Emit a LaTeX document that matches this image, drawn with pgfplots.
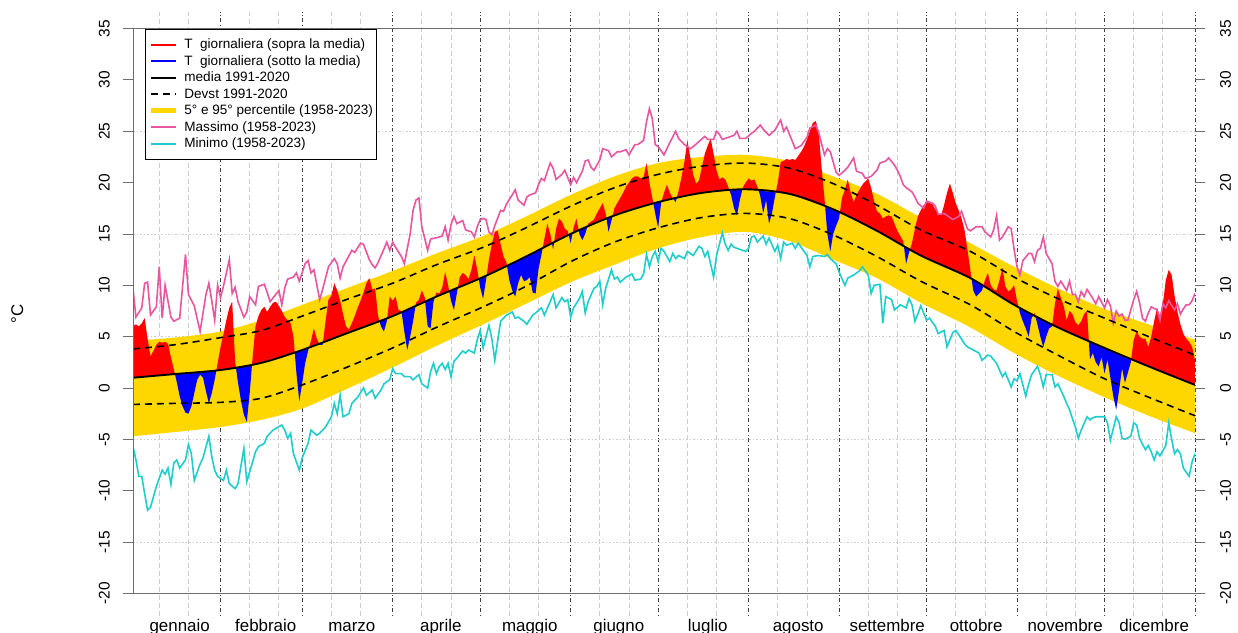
\documentclass[border=0pt]{standalone}
\usepackage{fontspec}
\setmainfont{Liberation Sans}
\usepackage{pgfplots}
\usepackage{pgfplotstable}
\usepgfplotslibrary{fillbetween}
\pgfplotsset{compat=1.18}

\definecolor{oro}{RGB}{255,215,0}
\definecolor{rosa}{RGB}{232,86,160}
\definecolor{turchese}{RGB}{32,205,205}
\definecolor{asse}{RGB}{110,110,110}
\definecolor{griglia}{RGB}{205,205,205}

% climatologia: percentili 5-95 (1958-2023), media e devst 1991-2020
\pgfplotstableread{
day lo hi sdlo sdhi mean
1 -4.7 4.6 -1.6 3.8 1.0
15 -4.3 4.9 -1.5 4.2 1.35
31 -3.8 5.5 -1.4 4.9 1.75
45 -3.1 6.6 -1.0 5.6 2.45
59 -2.0 8.1 0.3 7.0 3.7
75 0.0 9.8 2.1 8.7 5.4
90 2.0 11.4 3.9 10.2 7.0
105 4.1 13.1 5.9 12.0 8.9
121 6.2 14.8 7.9 13.7 10.8
135 8.1 16.6 9.8 15.5 12.7
151 10.3 18.8 12.3 17.7 15.0
166 12.0 20.6 14.2 19.5 16.8
181 13.6 21.9 15.6 20.8 18.1
196 14.7 22.5 16.6 21.6 19.0
211 15.2 22.7 17.0 21.9 19.35
226 14.3 22.1 16.5 21.4 18.9
241 12.5 20.6 14.9 19.9 17.4
256 10.7 18.9 12.8 17.8 15.3
271 8.3 16.6 10.4 15.4 12.9
288 5.9 14.1 8.1 13.3 10.7
303 3.4 11.8 5.5 10.8 8.1
318 1.2 9.7 3.2 8.7 5.9
334 -0.9 7.7 0.9 6.8 3.9
350 -2.8 6.1 -1.0 4.9 2.0
365 -4.4 4.7 -2.7 3.2 0.3
}\clima

\begin{document}
\begin{tikzpicture}
\begin{axis}[
  at={(0,0)}, anchor=south west,
  scale only axis, width=1062bp, height=603.9bp,
  xmin=1, xmax=365, ymin=-22.2, ymax=36.6,
  clip mode=individual,
  axis line style={draw=none},
  tick align=outside,
  major tick length=10bp,
  ytick={-20,-15,...,35}, ytick pos=left,
  ytick style={asse, line width=0.8bp},
  yticklabel style={rotate=90, anchor=south, inner ysep=13bp, font=\fontsize{15.5}{16}\selectfont},
  /pgf/number format/assume math mode=true,
  xtick={17,46.5,76,106.5,137,167.5,198,229,259.5,290,320.5,351},
  xticklabels={gennaio,febbraio,marzo,aprile,maggio,giugno,luglio,agosto,settembre,ottobre,novembre,dicembre},
  xtick style={draw=none},
  xticklabel style={font=\fontsize{17}{18}\selectfont, anchor=base, inner sep=0bp, yshift=-5bp},
  minor xtick={10,20,41,51,69,79,100,110,130,140,161,171,191,201,222,232,253,263,283,293,314,324,344,354},
  xminorgrids,
  minor grid style={griglia, line width=0.8bp, dash pattern=on 5bp off 3bp},
  extra x ticks={31,59,90,120,151,181,212,243,273,304,334,365},
  extra x tick labels={},
  extra x tick style={major tick length=0pt, grid=major,
    major grid style={black!75, line width=0.7bp, dash pattern=on 1bp off 2.5bp on 4bp off 2.5bp}},
  extra y ticks={-15,-5,5,15,25},
  extra y tick labels={},
  extra y tick style={grid=major, major grid style={griglia, line width=0.7bp, dash pattern=on 1.5bp off 2bp}},
  ylabel={°C},
  ylabel style={at={(axis description cs:-0.109,0.5)}, anchor=center, font=\fontsize{17}{18}\selectfont},
  legend style={at={(0.0113,0.9718)}, anchor=north west, draw=black, line width=0.8bp, fill=white,
    font=\fontsize{13.6}{15}\selectfont, inner xsep=3bp, inner ysep=8bp, row sep=2bp, column sep=6bp,
    nodes={inner sep=0bp, text height=11bp, text depth=3.5bp}, cells={anchor=west}},
]

% fascia 5-95 percentile
\addplot[draw=none, smooth, name path=hi, forget plot] table[x=day, y=hi]{\clima};
\addplot[draw=none, smooth, name path=lo, forget plot] table[x=day, y=lo]{\clima};
\addplot[fill=oro, draw=none, forget plot] fill between[of=hi and lo];

% temperatura giornaliera rispetto alla media
\addplot[draw=none, name path=med, forget plot] table[x=day, y=mean]{\clima};
\addplot[draw=none, name path=tg, forget plot] coordinates {
(1,6.0) (2,6.2) (3,6.0) (4,6.3) (5,6.8) (6,4.8) (7,3.1) (8,3.6) (9,4.2) (10,4.5)
(11,4.4) (12,4.5) (13,4.3) (14,3.0) (15,1.8) (16,0.6) (17,-0.8) (18,-1.8) (19,-2.4) (20,-2.5)
(21,-1.8) (22,-0.5) (23,0.8) (24,1.3) (25,1.0) (26,-0.3) (27,-1.5) (28,-0.5) (29,0.8) (30,2.4)
(31,4.0) (32,5.2) (33,6.6) (34,7.8) (35,8.4) (36,2.6) (37,0.5) (38,-1.2) (39,-2.6) (40,-3.3)
(41,-0.5) (42,3.0) (43,6.0) (44,7.0) (45,7.6) (46,7.9) (47,7.4) (48,7.9) (49,8.3) (50,8.4)
(51,8.0) (52,7.5) (53,6.9) (54,6.6) (55,6.3) (56,5.0) (57,1.5) (58,-1.3) (59,0.5) (60,2.4)
(61,3.6) (62,4.6) (63,5.8) (64,4.8) (65,4.2) (66,4.2) (67,6.5) (68,8.6) (69,9.0) (70,10.2)
(71,9.5) (72,8.5) (73,7.2) (74,6.0) (75,5.7) (76,6.3) (77,7.0) (78,7.8) (79,8.5) (80,9.3)
(81,10.2) (82,10.7) (83,9.6) (84,9.7) (85,7.0) (86,6.0) (87,5.5) (88,6.5) (89,8.9) (90,8.5)
(91,8.9) (92,7.6) (93,7.5) (94,5.5) (95,3.7) (96,5.0) (97,6.5) (98,8.3) (99,8.6) (100,9.5)
(101,8.8) (102,6.0) (103,5.8) (104,8.4) (105,9.3) (106,9.2) (107,9.8) (108,11.3) (109,10.0) (110,8.5)
(111,7.6) (112,9.2) (113,10.8) (114,11.2) (115,11.0) (116,10.6) (117,11.5) (118,12.9) (119,11.5) (120,9.8)
(121,8.7) (122,10.5) (123,12.5) (124,14.0) (125,15.2) (126,15.3) (127,14.0) (128,12.8) (129,12.2) (130,10.5)
(131,9.5) (132,8.9) (133,10.2) (134,11.0) (135,10.4) (136,10.5) (137,10.8) (138,9.3) (139,9.2) (140,11.6)
(141,13.0) (142,14.5) (143,16.0) (144,15.0) (145,13.5) (146,15.5) (147,16.5) (148,16.2) (149,15.5) (150,15.3)
(151,14.1) (152,15.6) (153,16.5) (154,15.0) (155,14.4) (156,15.0) (157,16.0) (158,16.2) (159,16.4) (160,17.0)
(161,17.5) (162,18.0) (163,17.0) (164,15.2) (165,16.3) (166,17.5) (167,18.0) (168,18.5) (169,19.0) (170,19.6)
(171,20.0) (172,20.4) (173,20.6) (174,20.6) (175,20.4) (176,20.5) (177,21.9) (178,20.0) (179,18.5) (180,17.0)
(181,15.6) (182,18.0) (183,19.0) (184,19.8) (185,19.0) (186,18.5) (187,18.1) (188,19.2) (189,20.5) (190,22.0)
(191,24.1) (192,22.5) (193,20.8) (194,19.9) (195,20.2) (196,21.5) (197,22.8) (198,23.6) (199,24.3) (200,22.8)
(201,21.2) (202,20.3) (203,20.5) (204,20.3) (205,19.6) (206,18.8) (207,17.5) (208,16.8) (209,18.3) (210,19.5)
(211,20.0) (212,20.4) (213,20.2) (214,20.3) (215,19.6) (216,18.7) (217,17.0) (218,18.3) (219,16.0) (220,17.0)
(221,18.6) (222,20.0) (223,22.0) (224,22.1) (225,22.3) (226,22.2) (227,22.3) (228,22.2) (229,22.6) (230,23.0)
(231,23.5) (232,24.2) (233,25.0) (234,25.8) (235,26.0) (236,25.0) (237,21.5) (238,18.5) (239,15.0) (240,13.3)
(241,15.0) (242,15.8) (243,16.5) (244,18.5) (245,19.3) (246,20.3) (247,19.0) (248,18.1) (249,18.8) (250,19.3)
(251,19.8) (252,20.1) (253,20.4) (254,19.5) (255,18.2) (256,17.2) (257,17.0) (258,16.5) (259,16.7) (260,16.8)
(261,16.7) (262,16.0) (263,15.3) (264,14.8) (265,14.3) (266,12.1) (267,13.2) (268,14.1) (269,15.5) (270,16.7)
(271,17.3) (272,17.8) (273,18.1) (274,18.0) (275,17.9) (276,17.4) (277,17.0) (278,16.8) (279,17.8) (280,19.0)
(281,19.9) (282,19.0) (283,18.0) (284,17.3) (285,16.5) (286,15.4) (287,13.5) (288,11.5) (289,9.5) (290,8.9)
(291,9.2) (292,9.5) (293,10.5) (294,11.2) (295,10.0) (296,9.6) (297,9.5) (298,10.5) (299,11.7) (300,9.9)
(301,9.4) (302,9.6) (303,10.0) (304,8.5) (305,7.3) (306,6.5) (307,5.8) (308,5.0) (309,6.8) (310,7.3)
(311,6.2) (312,5.0) (313,4.0) (314,5.0) (315,5.8) (316,6.0) (317,8.2) (318,9.7) (319,8.8) (320,8.0)
(321,6.6) (322,7.5) (323,7.2) (324,6.4) (325,6.1) (326,6.5) (327,7.2) (328,7.5) (329,2.8) (330,3.4)
(331,2.5) (332,2.1) (333,3.0) (334,1.4) (335,2.8) (336,1.0) (337,-0.8) (338,-2.1) (339,-0.2) (340,1.9)
(341,0.5) (342,1.5) (343,2.5) (344,4.7) (345,5.5) (346,5.0) (347,4.8) (348,4.8) (349,4.0) (350,5.0)
(351,6.5) (352,7.8) (353,7.0) (354,8.2) (355,10.5) (356,11.5) (357,11.0) (358,9.0) (359,7.4) (360,6.2)
(361,5.3) (362,4.8) (363,4.5) (364,4.0) (365,2.7)
};
\addplot[fill=red, draw=none, forget plot] fill between[of=tg and med, split,
  every even segment/.style={fill=red}, every odd segment/.style={fill=blue}];

% massimo assoluto 1958-2023
\addplot[rosa, line width=1.6bp, forget plot] coordinates {
(1,9.7) (2,6.9) (4,7.8) (5,10.2) (6,10.3) (7,7.1) (9,7.9) (10,11.8) (11,6.8) (12,10.0)
(14,6.9) (15,6.5) (17,6.8) (19,13.0) (20,9.1) (22,8.0) (24,5.5) (25,7.3) (26,9.1) (27,10.2)
(28,8.5) (29,6.6) (30,10.0) (31,8.8) (32,9.9) (34,12.5) (35,9.2) (36,9.8) (37,8.4) (39,6.9)
(40,7.4) (41,8.9) (43,8.1) (44,9.9) (46,10.1) (47,9.3) (48,8.4) (51,9.5) (52,8.1) (53,9.7)
(54,10.6) (56,10.8) (57,11.2) (58,10.4) (60,12.1) (61,12.4) (62,11.2) (63,11.5) (65,8.6) (66,9.6)
(68,11.8) (70,12.6) (71,12.1) (72,10.7) (73,11.8) (76,13.4) (77,13.2) (79,14.1) (80,14.0) (82,12.5)
(83,12.0) (84,11.7) (85,12.2) (88,14.2) (89,13.4) (90,14.2) (91,13.7) (93,12.8) (94,12.1) (96,15.0)
(97,17.3) (98,18.3) (99,18.5) (100,15.7) (102,13.4) (103,14.5) (106,14.7) (107,14.8) (108,15.7) (109,14.4)
(110,15.9) (111,16.7) (112,16.0) (114,16.3) (115,15.4) (117,15.2) (118,14.7) (119,15.7) (120,16.4) (121,16.5)
(122,16.4) (123,15.2) (124,14.9) (125,15.8) (127,17.3) (128,17.2) (129,17.9) (131,18.8) (132,19.3) (133,18.3)
(135,17.8) (136,18.6) (137,18.8) (139,19.0) (140,19.8) (141,20.4) (142,20.2) (144,21.9) (145,21.4) (146,20.3)
(148,20.8) (149,21.2) (151,19.8) (152,20.5) (153,20.0) (155,21.1) (156,22.1) (157,22.2) (158,21.5) (159,21.2)
(161,22.2) (162,23.3) (164,23.1) (165,22.5) (167,23.0) (168,23.0) (170,23.2) (171,22.7) (173,23.7) (174,23.7)
(176,24.1) (177,25.9) (178,27.2) (179,26.2) (180,23.7) (181,23.5) (183,22.7) (184,23.3) (185,23.9) (187,25.0)
(188,24.3) (190,23.7) (192,23.3) (193,23.5) (195,24.0) (197,24.5) (198,24.2) (200,24.2) (201,25.0) (202,24.7)
(203,24.2) (205,24.4) (206,24.5) (207,24.6) (208,25.0) (209,24.3) (211,24.3) (213,24.8) (214,25.0) (216,25.6)
(217,25.2) (219,24.6) (221,25.1) (223,26.1) (224,25.0) (225,25.4) (227,24.0) (228,23.3) (230,23.6) (232,24.4)
(233,25.3) (235,25.6) (236,24.9) (238,22.7) (239,23.3) (240,23.0) (241,22.0) (242,21.0) (243,20.7) (245,21.2)
(246,21.5) (248,22.4) (249,21.1) (251,20.9) (252,20.4) (254,20.6) (256,21.2) (257,21.9) (259,22.1) (260,22.4)
(262,21.7) (263,21.2) (264,20.6) (265,19.8) (266,19.5) (268,19.1) (269,18.6) (270,18.0) (272,17.5) (273,18.2)
(275,18.0) (276,17.7) (277,16.9) (279,17.0) (280,16.8) (282,16.4) (284,16.7) (285,17.2) (287,15.5) (288,15.3)
(290,15.7) (292,15.7) (293,15.2) (295,14.7) (296,15.4) (297,16.8) (298,14.4) (299,14.7) (301,15.7) (302,15.5)
(303,13.5) (304,11.8) (305,11.0) (306,12.4) (308,13.1) (309,13.1) (310,12.3) (311,13.4) (312,13.6) (313,14.7)
(314,13.1) (316,12.1) (317,10.4) (318,9.9) (319,10.4) (321,9.5) (322,10.4) (323,9.1) (324,9.1) (325,8.4)
(326,9.4) (327,8.9) (328,9.6) (330,8.7) (331,8.2) (332,8.9) (334,7.8) (335,8.6) (336,8.0) (337,6.3)
(338,7.5) (339,7.0) (340,7.2) (341,6.6) (342,6.6) (344,8.6) (345,9.4) (346,8.3) (347,6.8) (348,6.5)
(349,7.3) (350,7.9) (352,7.6) (353,6.6) (354,8.2) (355,7.8) (356,8.5) (358,7.6) (359,8.2) (360,7.2)
(361,7.7) (362,8.1) (363,8.1) (364,8.5) (365,9.2)
};

% minimo assoluto 1958-2023
\addplot[turchese, line width=1.6bp, forget plot] coordinates {
(1,-5.7) (2,-7.0) (3,-8.6) (4,-8.6) (5,-10.3) (6,-11.9) (7,-11.6) (9,-9.6) (10,-8.8) (11,-8.0)
(12,-8.4) (13,-7.8) (14,-9.4) (15,-7.3) (16,-7.0) (17,-7.8) (19,-7.0) (20,-5.5) (21,-6.4) (22,-9.0)
(24,-7.4) (25,-6.8) (27,-4.7) (28,-6.7) (29,-8.0) (30,-8.6) (32,-9.0) (33,-8.0) (34,-9.3) (36,-9.8)
(37,-9.3) (39,-5.9) (40,-9.1) (42,-7.2) (43,-6.2) (44,-5.7) (46,-5.4) (47,-4.7) (49,-4.1) (52,-3.6)
(53,-4.1) (54,-4.9) (55,-4.4) (56,-6.4) (58,-8.0) (59,-6.8) (61,-5.4) (62,-4.1) (64,-4.6) (65,-4.4)
(67,-3.8) (69,-2.8) (70,-1.5) (71,-2.5) (72,-0.7) (73,-2.8) (75,-2.5) (76,-1.5) (78,-0.9) (80,0.0)
(81,-0.7) (83,-0.2) (84,-1.0) (86,-0.2) (87,0.4) (89,0.8) (90,1.9) (91,1.4) (93,1.4) (94,1.1)
(96,1.1) (97,0.8) (99,1.3) (100,0.4) (102,0.0) (103,1.6) (104,2.4) (105,1.4) (106,2.1) (107,2.4)
(108,1.8) (109,2.4) (110,1.1) (111,2.6) (112,2.9) (114,3.6) (115,3.4) (116,3.7) (118,3.4) (119,4.7)
(120,5.6) (121,3.9) (123,6.1) (124,4.8) (125,2.7) (127,6.5) (129,7.1) (131,7.4) (132,6.8) (133,6.9)
(135,6.5) (136,6.2) (138,7.1) (139,7.3) (141,7.8) (142,7.1) (144,8.4) (145,9.1) (146,7.8) (148,8.8)
(149,8.4) (150,8.6) (151,6.9) (152,7.8) (154,8.7) (155,9.4) (156,7.3) (157,8.4) (159,9.7) (160,9.9)
(161,10.4) (162,8.1) (163,9.7) (165,11.5) (166,10.6) (167,10.8) (168,10.3) (170,10.8) (172,11.1) (173,10.5)
(175,10.6) (176,11.1) (177,13.0) (178,11.8) (179,12.8) (180,13.3) (181,12.3) (182,13.6) (183,13.3) (185,12.3)
(186,13.1) (187,12.6) (188,12.9) (190,12.6) (191,13.3) (193,12.9) (195,13.8) (196,13.6) (197,12.8) (198,13.3)
(200,10.8) (201,12.9) (203,15.1) (204,14.0) (205,13.4) (206,14.0) (207,13.7) (209,13.5) (211,13.3) (212,13.6)
(213,14.7) (214,14.8) (215,14.2) (217,14.8) (218,14.0) (219,14.6) (221,13.3) (222,13.9) (223,12.6) (224,14.2)
(225,13.9) (227,14.1) (228,13.6) (229,14.1) (231,13.3) (232,12.9) (233,11.8) (234,12.8) (236,12.9) (238,12.8)
(239,13.0) (240,12.6) (242,12.1) (243,11.3) (245,10.0) (246,10.7) (248,11.0) (250,11.4) (251,11.8) (253,11.0)
(254,9.2) (255,10.0) (257,10.1) (258,6.3) (259,8.9) (261,8.6) (262,7.6) (264,8.1) (266,7.8) (267,8.7)
(268,8.1) (269,6.5) (270,7.2) (271,8.0) (273,6.6) (274,6.8) (276,6.0) (277,5.3) (279,5.6) (280,4.0)
(282,5.4) (283,5.6) (284,5.2) (286,4.3) (287,4.0) (289,3.7) (291,3.4) (292,2.7) (294,3.2) (295,3.1)
(297,2.4) (299,1.1) (300,1.5) (302,0.1) (303,0.9) (304,0.7) (305,1.4) (307,-0.8) (308,0.4) (309,1.3)
(311,2.1) (312,1.3) (313,0.1) (314,1.3) (316,1.3) (317,0.1) (318,0.4) (320,-0.8) (321,-1.5) (322,-2.1)
(323,-3.0) (324,-3.8) (325,-4.9) (326,-4.1) (328,-2.8) (329,-3.1) (330,-2.9) (331,-2.8) (333,-2.8) (334,-2.8)
(335,-3.4) (336,-5.1) (338,-2.8) (339,-3.4) (340,-4.9) (341,-5.0) (343,-4.7) (344,-3.4) (345,-3.6) (346,-4.9)
(348,-6.0) (349,-5.6) (350,-6.2) (351,-7.0) (352,-6.2) (353,-6.6) (355,-5.6) (356,-3.4) (357,-5.0) (358,-6.4)
(359,-6.0) (360,-6.4) (361,-7.8) (362,-8.2) (363,-8.6) (364,-7.2) (365,-6.4)
};

% media e devst 1991-2020
\addplot[black, smooth, line width=1.6bp, dash pattern=on 7bp off 5bp, forget plot] table[x=day, y=sdhi]{\clima};
\addplot[black, smooth, line width=1.6bp, dash pattern=on 7bp off 5bp, forget plot] table[x=day, y=sdlo]{\clima};
\addplot[black, smooth, line width=1.9bp, forget plot] table[x=day, y=mean]{\clima};

% assi
\draw[asse, line width=0.8bp] (axis cs:1,-20) -- (axis cs:1,35);
\draw[asse, line width=0.8bp] ([xshift=-10bp]axis cs:1,35) -- ([xshift=10bp]axis cs:365,35);
\draw[asse, line width=0.8bp] ([xshift=-10bp]axis cs:1,-20) -- ([xshift=10bp]axis cs:365,-20);

\addlegendimage{legend image code/.code={\draw[red, line width=2bp] (0bp,0bp) -- (25bp,0bp);}}
\addlegendentry{T\ \ giornaliera (sopra la media)}
\addlegendimage{legend image code/.code={\draw[blue, line width=2bp] (0bp,0bp) -- (25bp,0bp);}}
\addlegendentry{T\ \ giornaliera (sotto la media)}
\addlegendimage{legend image code/.code={\draw[black, line width=2.2bp] (0bp,0bp) -- (25bp,0bp);}}
\addlegendentry{media 1991-2020}
\addlegendimage{legend image code/.code={\draw[black, line width=2bp, dash pattern=on 7bp off 5bp] (0bp,0bp) -- (25bp,0bp);}}
\addlegendentry{Devst 1991-2020}
\addlegendimage{legend image code/.code={\draw[oro, line width=5bp] (0bp,0bp) -- (25bp,0bp);}}
\addlegendentry{5° e 95° percentile (1958-2023)}
\addlegendimage{legend image code/.code={\draw[rosa, line width=2bp] (0bp,0bp) -- (25bp,0bp);}}
\addlegendentry{Massimo (1958-2023)}
\addlegendimage{legend image code/.code={\draw[turchese, line width=2bp] (0bp,0bp) -- (25bp,0bp);}}
\addlegendentry{Minimo (1958-2023)}
\end{axis}

% etichette a destra
\begin{axis}[
  at={(0,0)}, anchor=south west,
  scale only axis, width=1062bp, height=603.9bp,
  xmin=1, xmax=365, ymin=-22.2, ymax=36.6,
  axis line style={draw=none},
  xtick=\empty,
  tick align=outside,
  major tick length=10bp,
  ytick={-20,-15,...,35}, ytick pos=right, yticklabel pos=right,
  ytick style={asse, line width=0.8bp},
  yticklabel style={rotate=90, anchor=north, inner ysep=15bp, font=\fontsize{15.5}{16}\selectfont},
  /pgf/number format/assume math mode=true,
]
\end{axis}
\pgfresetboundingbox
\path[use as bounding box] (-133bp,-17bp) rectangle (1105bp,616bp);
\end{tikzpicture}
\end{document}
